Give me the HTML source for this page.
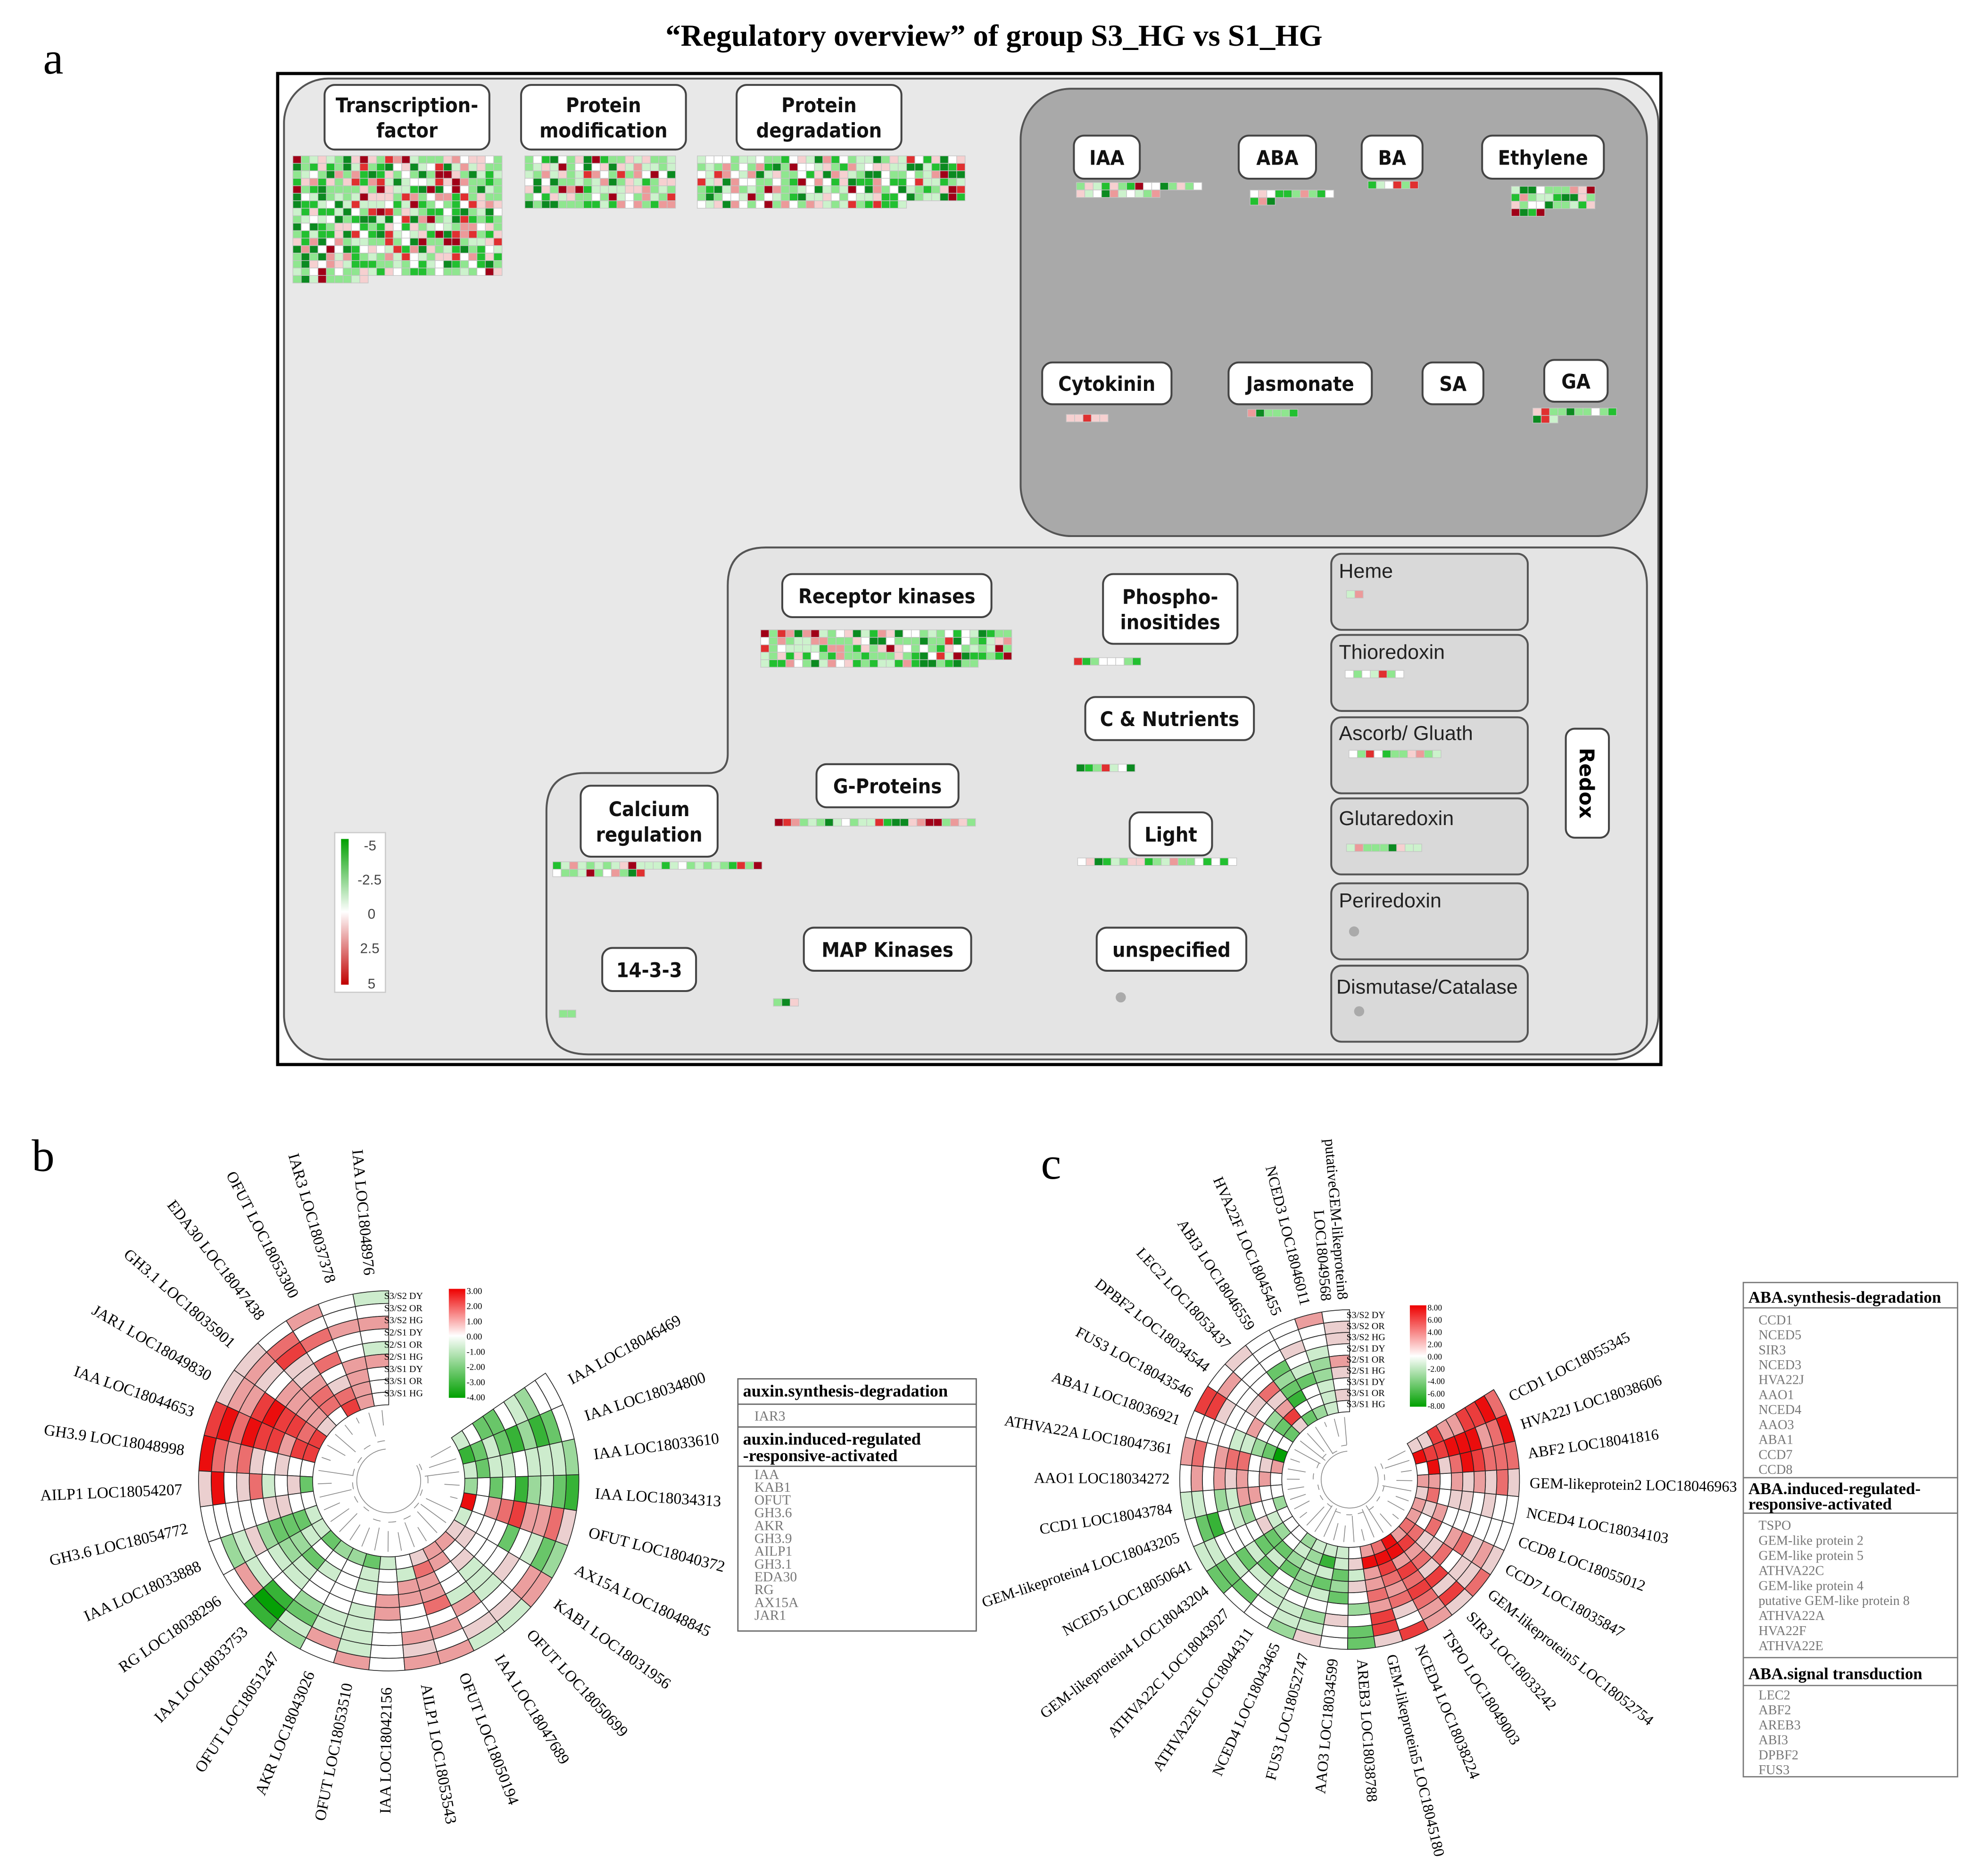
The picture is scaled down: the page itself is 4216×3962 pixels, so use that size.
<!DOCTYPE html>
<html><head><meta charset="utf-8"><style>
html,body{margin:0;padding:0;background:#fff;}
svg{display:block;}
</style></head><body>
<svg id="s" xmlns="http://www.w3.org/2000/svg" width="4216" height="3962" viewBox="1 0 1568 1474" preserveAspectRatio="none">
<defs>
<linearGradient id="ga" x1="0" y1="0" x2="0" y2="1"><stop offset="0" stop-color="#00a000"/><stop offset="0.5" stop-color="#ffffff"/><stop offset="1" stop-color="#c00000"/></linearGradient>
<linearGradient id="gb" x1="0" y1="0" x2="0" y2="1"><stop offset="0" stop-color="#ee0000"/><stop offset="0.43" stop-color="#ffffff"/><stop offset="1" stop-color="#00a000"/></linearGradient>
<linearGradient id="gc" x1="0" y1="0" x2="0" y2="1"><stop offset="0" stop-color="#ee0000"/><stop offset="0.5" stop-color="#ffffff"/><stop offset="1" stop-color="#00a000"/></linearGradient>
</defs>
<rect x="0" width="1570" height="1474" fill="#fff"/>
<text x="785" y="36" text-anchor="middle" font-family="Liberation Serif, serif" font-weight="bold" font-size="24">“Regulatory overview” of group S3_HG vs S1_HG</text>
<text x="35" y="58" font-family="Liberation Serif, serif" font-size="36">a</text>
<text x="26" y="924" font-family="Liberation Serif, serif" font-size="36">b</text>
<text x="822" y="930" font-family="Liberation Serif, serif" font-size="36">c</text>

<rect x="220" y="58" width="1091" height="782" fill="#fff" stroke="#000" stroke-width="2.5"/>
<rect x="225" y="62" width="1084" height="774" rx="35" fill="#e8e8e8" stroke="#555" stroke-width="1.5"/>
<rect x="806" y="70" width="494" height="353" rx="40" fill="#a9a9a9" stroke="#555" stroke-width="1.5"/>
<path d="M605,432 H1270 Q1300,432 1300,462 V805 Q1300,832 1272,832 H465 Q432,832 432,800 V640 Q432,610 462,610 H560 Q575,610 575,595 V462 Q575,432 605,432 Z" fill="#e4e4e4" stroke="#555" stroke-width="1.5"/>
<g id="redox" fill="#d9d9d9" stroke="#555" stroke-width="1.5">
<rect x="1051" y="437" width="155" height="60" rx="8"/>
<rect x="1051" y="501" width="155" height="60" rx="8"/>
<rect x="1051" y="566" width="155" height="60" rx="8"/>
<rect x="1051" y="630" width="155" height="60" rx="8"/>
<rect x="1051" y="697" width="155" height="60" rx="8"/>
<rect x="1051" y="762" width="155" height="60" rx="8"/>
</g>
<g font-family="Liberation Sans, sans-serif" font-size="16" fill="#222">
<text x="1057" y="456">Heme</text>
<text x="1057" y="520">Thioredoxin</text>
<text x="1057" y="584">Ascorb/ Gluath</text>
<text x="1057" y="651">Glutaredoxin</text>
<text x="1057" y="716">Periredoxin</text>
<text x="1055" y="784">Dismutase/Catalase</text>
</g>
<g id="lab" fill="#fff" stroke="#444" stroke-width="1.5"></g>
<g id="grids"></g>
<circle cx="1069" cy="735" r="4" fill="#aaa"/>
<circle cx="1073" cy="798" r="4" fill="#aaa"/>
<circle cx="885" cy="787" r="4" fill="#aaa"/>

<rect x="265" y="657" width="40" height="126" fill="#fff" stroke="#ccc"/>
<rect x="270" y="662" width="6" height="115" fill="url(#ga)"/>
<g font-family="Liberation Sans, sans-serif" font-size="11" fill="#444">
<text x="288" y="671">-5</text><text x="283" y="698">-2.5</text><text x="291" y="725">0</text><text x="285" y="752">2.5</text><text x="291" y="780">5</text>
</g>

<g id="circ"></g>

<g font-family="Liberation Serif, serif">
<rect x="583" y="1088" width="188" height="199" fill="#fff" stroke="#666"/>
<line x1="583" y1="1108" x2="771" y2="1108" stroke="#666"/>
<line x1="583" y1="1126" x2="771" y2="1126" stroke="#666"/>
<line x1="583" y1="1157" x2="771" y2="1157" stroke="#666"/>
<text x="587" y="1102" font-weight="bold" font-size="13.5">auxin.synthesis-degradation</text>
<text x="596" y="1121" font-size="11" fill="#777">IAR3</text>
<text x="587" y="1140" font-weight="bold" font-size="13.5">auxin.induced-regulated</text>
<text x="587" y="1153" font-weight="bold" font-size="13.5">-responsive-activated</text>
<g font-size="11" fill="#777" id="blist"></g>
</g>
<g font-family="Liberation Serif, serif">
<rect x="1376" y="1012" width="169" height="390" fill="#fff" stroke="#777"/>
<line x1="1376" y1="1032" x2="1545" y2="1032" stroke="#777"/>
<line x1="1376" y1="1166" x2="1545" y2="1166" stroke="#777"/>
<line x1="1376" y1="1194" x2="1545" y2="1194" stroke="#777"/>
<line x1="1376" y1="1308" x2="1545" y2="1308" stroke="#777"/>
<line x1="1376" y1="1330" x2="1545" y2="1330" stroke="#777"/>
<text x="1380" y="1028" font-weight="bold" font-size="13">ABA.synthesis-degradation</text>
<text x="1380" y="1179" font-weight="bold" font-size="13">ABA.induced-regulated-</text>
<text x="1380" y="1191" font-weight="bold" font-size="13">responsive-activated</text>
<text x="1380" y="1325" font-weight="bold" font-size="13">ABA.signal transduction</text>
<g font-size="10.5" fill="#777" id="clist"></g>
</g>
</svg>
<script>
(function(){
var NS='http://www.w3.org/2000/svg';
function el(t,a,p,txt){var e=document.createElementNS(NS,t);for(var k in a)e.setAttribute(k,a[k]);if(txt!==undefined)e.textContent=txt;(p||document.getElementById('s')).appendChild(e);return e;}
var seed=12345;function rnd(){seed|=0;seed=seed+0x6D2B79F5|0;var t=Math.imul(seed^seed>>>15,1|seed);t=t+Math.imul(t^t>>>7,61|t)^t;return((t^t>>>14)>>>0)/4294967296;}
var lab=document.getElementById('lab');
var L=[[257,67,130,51,['Transcription-','factor']],[412,67,130,51,['Protein','modification']],[582,67,130,51,['Protein','degradation']],
[848,107,52,34,['IAA']],[978,107,61,34,['ABA']],[1075,107,48,34,['BA']],[1170,107,96,34,['Ethylene']],
[823,286,102,33,['Cytokinin']],[970,286,113,33,['Jasmonate']],[1123,286,48,33,['SA']],[1219,284,50,33,['GA']],
[618,453,165,34,['Receptor kinases']],[871,453,106,55,['Phospho-','inositides']],[857,550,133,34,['C & Nutrients']],
[645,603,112,34,['G-Proteins']],[459,620,108,56,['Calcium','regulation']],[892,641,65,34,['Light']],
[476,748,74,34,['14-3-3']],[635,732,132,34,['MAP Kinases']],[866,732,118,34,['unspecified']]];
L.forEach(function(b){el('rect',{x:b[0],y:b[1],width:b[2],height:b[3],rx:8},lab);
var n=b[4].length;b[4].forEach(function(s,i){var y=b[1]+b[3]/2+6+(i-(n-1)/2)*20;
el('text',{x:b[0]+b[2]/2,y:y,'text-anchor':'middle','font-family':'DejaVu Sans, Liberation Sans, sans-serif','font-weight':'bold','font-size':'16','fill':'#111','stroke':'none','font-stretch':'condensed'},null,s);});});
el('rect',{x:1236,y:575,width:34,height:86,rx:7,fill:'#fff',stroke:'#444','stroke-width':1.5});
el('text',{x:0,y:0,transform:'translate(1247,618) rotate(90)','text-anchor':'middle','font-family':'DejaVu Sans, Liberation Sans, sans-serif','font-weight':'bold','font-size':'16'},null,'Redox');
var G=document.getElementById('grids');
var pal=[['#0b8a20',.10],['#22c030',.14],['#8fe68f',.24],['#ccf2cc',.16],['#ffffff',.11],['#f6d0d0',.1],['#ec9a9a',.07],['#e03030',.04],['#a00018',.04]];
function pc(){var r=rnd(),a=0;for(var i=0;i<pal.length;i++){a+=pal[i][1];if(r<a)return pal[i][0];}return '#fff';}
function grid(x,y,c,r,last){var cw=6.6,ch=5.9;for(var j=0;j<r;j++){var n=(j==r-1&&last)?last:c;for(var i=0;i<n;i++){el('rect',{x:x+i*cw,y:y+j*ch,width:cw,height:ch,fill:pc(),stroke:'#c4c4c4','stroke-width':.5},G);}}}
grid(232,123,25,17,9);grid(415,123,18,7);grid(551,123,32,7,25);
grid(850,144,15,2,10);grid(987,150,10,2,3);grid(1080,143,6,1);grid(1193,147,10,4,4);
grid(842,327,5,1);grid(985,323,6,1);grid(1210,322,10,2,3);
grid(601,497,30,5,26);grid(848,519,8,1);grid(850,603,7,1);grid(612,646,24,1);grid(437,680,25,2,11);
grid(851,677,19,1);grid(442,797,2,1);grid(611,788,3,1);grid(1063,466,2,1);grid(1062,529,7,1);grid(1065,592,11,1);grid(1063,666,9,1);
var C=document.getElementById('circ');
function col(v){v=Math.max(-1,Math.min(1,v));if(Math.abs(v)<0.12)return '#ffffff';
var t=Math.round(Math.abs(v)*5)/5;
if(v>0){var g=Math.round(255*(1-t*0.95));return 'rgb(235,'+g+','+g+')';}
else{var r=Math.round(255*(1-t*0.98));var gg=Math.round(255-t*95);return 'rgb('+r+','+gg+','+r+')';}}
function ring(cx,cy,r0,r1,labels,bias,span,fs,off){
var n=labels.length,st=span/n,T=9,tw=(r1-r0)/T;
for(var i=0;i<n;i++){var a0=(-90-i*st)*Math.PI/180,a1=(-90-(i+1)*st)*Math.PI/180;
for(var k=0;k<T;k++){var ro=r1-k*tw,ri=ro-tw;var b=bias[i];var v=b[0]+(b[1]-b[0])*k/(T-1)+(rnd()-.5)*0.7;
if(rnd()<0.15)v=v*0.2;
var d='M'+(cx+ro*Math.cos(a0))+','+(cy+ro*Math.sin(a0))+' A'+ro+','+ro+' 0 0 0 '+(cx+ro*Math.cos(a1))+','+(cy+ro*Math.sin(a1))+
' L'+(cx+ri*Math.cos(a1))+','+(cy+ri*Math.sin(a1))+' A'+ri+','+ri+' 0 0 1 '+(cx+ri*Math.cos(a0))+','+(cy+ri*Math.sin(a0))+'Z';
el('path',{d:d,fill:col(v),stroke:'#222','stroke-width':0.6},C);}
var am=(-90-(i+.5)*st),ar=am*Math.PI/180,rr=r1+off,px=cx+rr*Math.cos(ar),py=cy+rr*Math.sin(ar);
var right=Math.cos(ar)>=0;var rot=right?am:am+180;
var lines=labels[i].split('|');
var t=el('text',{x:0,y:0,transform:'translate('+px+','+py+') rotate('+rot+')','text-anchor':right?'start':'end','font-family':'Liberation Serif, serif','font-size':fs,'dominant-baseline':'central'},C);
if(lines.length==1)t.textContent=lines[0];else{lines.forEach(function(s,j){el('tspan',{x:0,dy:j==0?-fs*0.55:fs*1.1},t,s);});}
}
var rd=r0-4;
for(var i=0;i<n;i++){var a=(-90-(i+.5)*st)*Math.PI/180;var inner=r0*(0.45+0.4*rnd());
el('line',{x1:cx+rd*Math.cos(a),y1:cy+rd*Math.sin(a),x2:cx+inner*Math.cos(a),y2:cy+inner*Math.sin(a),stroke:'#888','stroke-width':.6},C);}
for(var i=0;i<n-1;i+=2){var a0=(-90-(i+.5)*st)*Math.PI/180,a1=(-90-(i+1.5)*st)*Math.PI/180,r=r0*(0.45+0.1*rnd());
el('path',{d:'M'+(cx+r*Math.cos(a0))+','+(cy+r*Math.sin(a0))+' A'+r+','+r+' 0 0 0 '+(cx+r*Math.cos(a1))+','+(cy+r*Math.sin(a1)),fill:'none',stroke:'#888','stroke-width':.6},C);}
var r=r0*0.42;var aa=(-90-0.5*st)*Math.PI/180,ab=(-90-(n-.5)*st)*Math.PI/180;
el('path',{d:'M'+(cx+r*Math.cos(aa))+','+(cy+r*Math.sin(aa))+' A'+r+','+r+' 0 1 0 '+(cx+r*Math.cos(ab))+','+(cy+r*Math.sin(ab)),fill:'none',stroke:'#888','stroke-width':.6},C);
}
var bl=['IAA LOC18048976','IAR3 LOC18037378','OFUT LOC18053300','EDA30 LOC18047438','GH3.1 LOC18035901','JAR1 LOC18049830','IAA LOC18044653','GH3.9 LOC18048998','AILP1 LOC18054207','GH3.6 LOC18054772','IAA LOC18033888','RG LOC18038296','IAA LOC18033753','OFUT LOC18051247','AKR LOC18043026','OFUT LOC18053510','IAA LOC18042156','AILP1 LOC18053543','OFUT LOC18050194','IAA LOC18047689','OFUT LOC18050699','KAB1 LOC18031956','AX15A LOC18048845','OFUT LOC18040372','IAA LOC18034313','IAA LOC18033610','IAA LOC18034800','IAA LOC18046469'];
var bb=[[0.1,0.1],[0.3,0.3],[0.2,0.5],[0.4,0.6],[0.5,0.6],[0.6,0.7],[0.8,0.8],[0.95,-0.2],[0.9,-0.3],[0.3,-0.3],[0,-0.4],[0.2,-0.4],[-0.7,-0.3],[-0.2,-0.4],[0.1,-0.3],[0.2,-0.2],[0.3,-0.1],[0.2,0.1],[0.3,0.2],[0.1,0.3],[0,0.2],[0.1,0.1],[-0.5,0],[0.2,0.9],[-0.6,-0.3],[-0.6,-0.5],[-0.6,-0.7],[-0.2,-0.5]];
ring(307.6,1168.5,60,150,bl,bb,304.5,12.5,13);
var cl=['putativeGEM-likeprotein8|LOC18049568','NCED3 LOC18046011','HVA22F LOC18045455','ABI3 LOC18046559','LEC2 LOC18053437','DPBF2 LOC18034544','FUS3 LOC18043546','ABA1 LOC18036921','ATHVA22A LOC18047361','AAO1 LOC18034272','CCD1 LOC18043784','GEM-likeprotein4 LOC18043205','NCED5 LOC18050641','GEM-likeprotein4 LOC18043204','ATHVA22C LOC18043927','ATHVA22E LOC18044311','NCED4 LOC18043465','FUS3 LOC18052747','AAO3 LOC18034599','AREB3 LOC18038788','GEM-likeprotein5 LOC18045180','NCED4 LOC18038224','TSPO LOC18049003','SIR3 LOC18033242','GEM-likeprotein5 LOC18052754','CCD7 LOC18035847','CCD8 LOC18055012','NCED4 LOC18034103','GEM-likeprotein2 LOC18046963','ABF2 LOC18041816','HVA22J LOC18038606','CCD1 LOC18055345'];
var cb=[[0.2,0.1],[0.1,-0.4],[0.3,-0.5],[0,-0.7],[0.2,0.5],[0.4,-0.8],[0.5,0],[0,-0.8],[0.4,0.2],[0.3,0.3],[-0.4,0.4],[-0.4,-0.3],[-0.4,0.2],[-0.5,-0.3],[-0.3,-0.4],[-0.3,-0.3],[-0.2,-0.5],[0,-0.5],[0,-0.6],[-0.5,0.1],[0.4,0.7],[0.5,0.8],[0.6,0.7],[0.5,0.6],[0.5,0.5],[0.5,0.3],[0.4,0.3],[0.1,0.3],[0.3,0.4],[0.5,0.7],[0.7,0.9],[0.7,0.4]];
ring(1065.5,1167.5,53.5,134,cl,cb,302,12,8);
var tl=['S3/S2 DY','S3/S2 OR','S3/S2 HG','S2/S1 DY','S2/S1 OR','S2/S1 HG','S3/S1 DY','S3/S1 OR','S3/S1 HG'];
tl.forEach(function(s,i){el('text',{x:304,y:1025+i*9.6,'font-family':'Liberation Serif, serif','font-size':'7.5'},null,s);
el('text',{x:1063,y:1040+i*8.8,'font-family':'Liberation Serif, serif','font-size':'7.5'},null,s);});
el('rect',{x:355,y:1017,width:13,height:86,fill:'url(#gb)'});
['3.00','2.00','1.00','0.00','-1.00','-2.00','-3.00','-4.00'].forEach(function(s,i){el('text',{x:369,y:1021+i*12,'font-family':'Liberation Serif, serif','font-size':'7'},null,s);});
el('rect',{x:1113,y:1030,width:13,height:80,fill:'url(#gc)'});
['8.00','6.00','4.00','2.00','0.00','-2.00','-4.00','-6.00','-8.00'].forEach(function(s,i){el('text',{x:1127,y:1034+i*9.7,'font-family':'Liberation Serif, serif','font-size':'6.5'},null,s);});
var B=document.getElementById('blist');
['IAA','KAB1','OFUT','GH3.6','AKR','GH3.9','AILP1','GH3.1','EDA30','RG','AX15A','JAR1'].forEach(function(s,i){el('text',{x:596,y:1167+i*10.1},B,s);});
var Cl=document.getElementById('clist');
['CCD1','NCED5','SIR3','NCED3','HVA22J','AAO1','NCED4','AAO3','ABA1','CCD7','CCD8'].forEach(function(s,i){el('text',{x:1388,y:1045+i*11.8},Cl,s);});
['TSPO','GEM-like protein 2','GEM-like protein 5','ATHVA22C','GEM-like protein 4','putative GEM-like protein 8','ATHVA22A','HVA22F','ATHVA22E'].forEach(function(s,i){el('text',{x:1388,y:1207+i*11.9},Cl,s);});
['LEC2','ABF2','AREB3','ABI3','DPBF2','FUS3'].forEach(function(s,i){el('text',{x:1388,y:1341+i*11.8},Cl,s);});
})();
</script>
</body></html>
